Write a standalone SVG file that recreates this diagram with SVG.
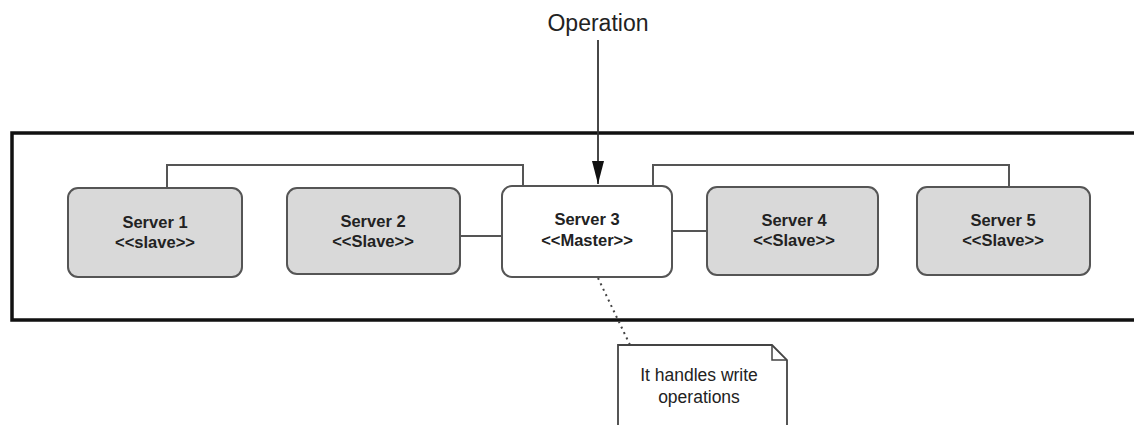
<svg xmlns="http://www.w3.org/2000/svg" width="1134" height="425" viewBox="0 0 1134 425">
<defs>
<style>
.node{stroke:#555;stroke-width:2}
.slave{fill:#d9d9d9}
.master{fill:#fff}
.t{font-family:"Liberation Sans",Arial,sans-serif;font-weight:bold;font-size:16.5px;fill:#222;text-anchor:middle}
.conn{fill:none;stroke:#555;stroke-width:2}
.lbl{font-family:"Liberation Sans",Arial,sans-serif;fill:#222;text-anchor:middle}
</style>
<marker id="arr" markerWidth="23" markerHeight="12" refX="23" refY="6" orient="auto" markerUnits="userSpaceOnUse" viewBox="0 0 23 12">
<path d="M0,0 L23,6 L0,12 Z" fill="#111"/>
</marker>
</defs>
<rect id="container" x="12" y="133" width="1140" height="187" fill="#fff" stroke="#111" stroke-width="3.5"/>
<g id="connectors">
<polyline class="conn" points="167,188 167,165 523,165 523,186"/>
<polyline class="conn" points="653,186 653,165 1009,165 1009,187"/>
<line class="conn" x1="460" y1="236" x2="502" y2="236"/>
<line class="conn" x1="672" y1="231" x2="707" y2="231"/>
<line x1="598" y1="40" x2="598" y2="184" stroke="#333" stroke-width="1.8" marker-end="url(#arr)"/>
<line x1="598" y1="278" x2="630" y2="345" stroke="#444" stroke-width="2" stroke-dasharray="2,4"/>
</g>
<g id="operation">
<text class="lbl" x="598" y="31" font-size="23">Operation</text>
</g>
<g id="server1">
<rect class="node slave" x="68" y="188" width="174" height="89" rx="10"/>
<text class="t" x="155" y="228">Server 1</text>
<text class="t" x="155" y="248">&lt;&lt;slave&gt;&gt;</text>
</g>
<g id="server2">
<rect class="node slave" x="287" y="188" width="173" height="86" rx="10"/>
<text class="t" x="373" y="227">Server 2</text>
<text class="t" x="373" y="247">&lt;&lt;Slave&gt;&gt;</text>
</g>
<g id="server3">
<rect class="node master" x="502" y="186" width="170" height="91" rx="10"/>
<text class="t" x="587" y="225">Server 3</text>
<text class="t" x="587" y="246">&lt;&lt;Master&gt;&gt;</text>
</g>
<g id="server4">
<rect class="node slave" x="707" y="187" width="171" height="88" rx="10"/>
<text class="t" x="794" y="226">Server 4</text>
<text class="t" x="794" y="246">&lt;&lt;Slave&gt;&gt;</text>
</g>
<g id="server5">
<rect class="node slave" x="917" y="187" width="173" height="88" rx="10"/>
<text class="t" x="1003" y="226">Server 5</text>
<text class="t" x="1003" y="246">&lt;&lt;Slave&gt;&gt;</text>
</g>
<g id="note">
<path d="M618,345 L772,345 L787,360 L787,430 L618,430 Z" fill="#fff" stroke="#444" stroke-width="1.8"/>
<path d="M772,345 L772,360 L787,360" fill="none" stroke="#444" stroke-width="1.5"/>
<text class="lbl" x="699" y="381" font-size="17.5">It handles write</text>
<text class="lbl" x="699" y="403" font-size="17.5">operations</text>
</g>
</svg>
